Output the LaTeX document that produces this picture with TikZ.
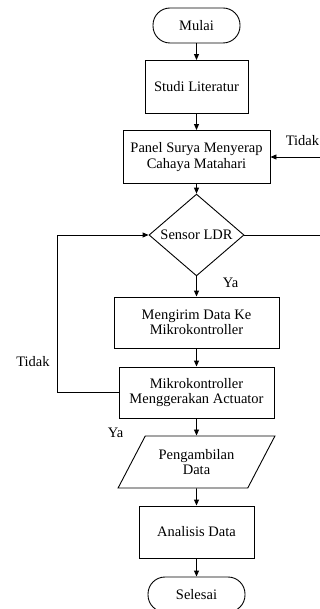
\documentclass[tikz,border=0pt]{standalone}
\usepackage{fontspec}
\setmainfont{Liberation Serif}
\usepackage{xcolor}
\usepackage{tikz}
\usetikzlibrary{calc,arrows.meta,shapes.geometric}
\definecolor{bg}{HTML}{FFFFFF}
\definecolor{ink}{HTML}{000000}
\tikzset{
  base/.style={draw=ink, line width=0.9pt, line join=miter},
  box/.style={base, rectangle, align=center, inner sep=0pt, font=\fontsize{14.5}{15.5}\selectfont},
  term/.style={box, rounded corners=17pt},
  dec/.style={box, diamond},
  io/.style={box, trapezium, trapezium left angle=52, trapezium right angle=128, trapezium stretches=true},
  arr/.style={draw=ink, line width=0.9pt, -{Triangle[length=6pt,width=5pt]}},
  lab/.style={text=ink, inner sep=0pt, font=\fontsize{14.5}{15.5}\selectfont}
}
\begin{document}
\begin{tikzpicture}[x=1pt,y=-1pt]
  \useasboundingbox[fill=bg] (0,0) rectangle (320,609);

  \node[term, minimum width=87pt, minimum height=35pt] (mulai) at (196.5,25.5) {Mulai};
  \node[box, minimum width=103pt, minimum height=53pt] (studi) at (196.5,87) {Studi Literatur};
  \node[box, minimum width=147pt, minimum height=53pt] (panel) at (196.5,157) {Panel Surya Menyerap\\Cahaya Matahari};
  \node[dec, minimum width=95pt, minimum height=80pt] (sensor) at (196.5,235) {Sensor LDR};
  \node[box, minimum width=165pt, minimum height=51pt] (kirim) at (196.5,322.5) {Mengirim Data Ke\\Mikrokontroller};
  \node[box, minimum width=155pt, minimum height=51pt] (mikro) at (196.5,392.5) {Mikrokontroller\\Menggerakan Actuator};
  \node[io, minimum width=157pt, minimum height=52pt] (ambil) at (196.5,462) {Pengambilan\\Data};
  \node[box, minimum width=115pt, minimum height=52pt] (analisis) at (196.5,532) {Analisis Data};
  \node[term, minimum width=97pt, minimum height=35pt] (selesai) at (196.5,594.5) {Selesai};

  \coordinate (loopL) at (57,300);
  \coordinate (loopR) at (323,200);

  \draw[arr] (mulai) -- (studi);
  \draw[arr] (studi) -- (panel);
  \draw[arr] (panel) -- (sensor);
  \draw[arr] (sensor) -- (kirim);
  \draw[arr] (kirim) -- (mikro);
  \draw[arr] (mikro) -- (ambil);
  \draw[arr] (ambil) -- (analisis);
  \draw[arr] (analisis) -- (selesai);

  \draw[arr] (sensor.east) -| (loopR) |- (panel.east);
  \draw[arr] (mikro.west) -- (mikro.west -| loopL) |- (sensor.west);

  \node[lab] (t1) at (302.5,141) {Tidak};
  \node[lab] (y1) at (230.5,283) {Ya};
  \node[lab] (t2) at (33,362) {Tidak};
  \node[lab] (y2) at (115.5,433) {Ya};
\end{tikzpicture}
\end{document}
